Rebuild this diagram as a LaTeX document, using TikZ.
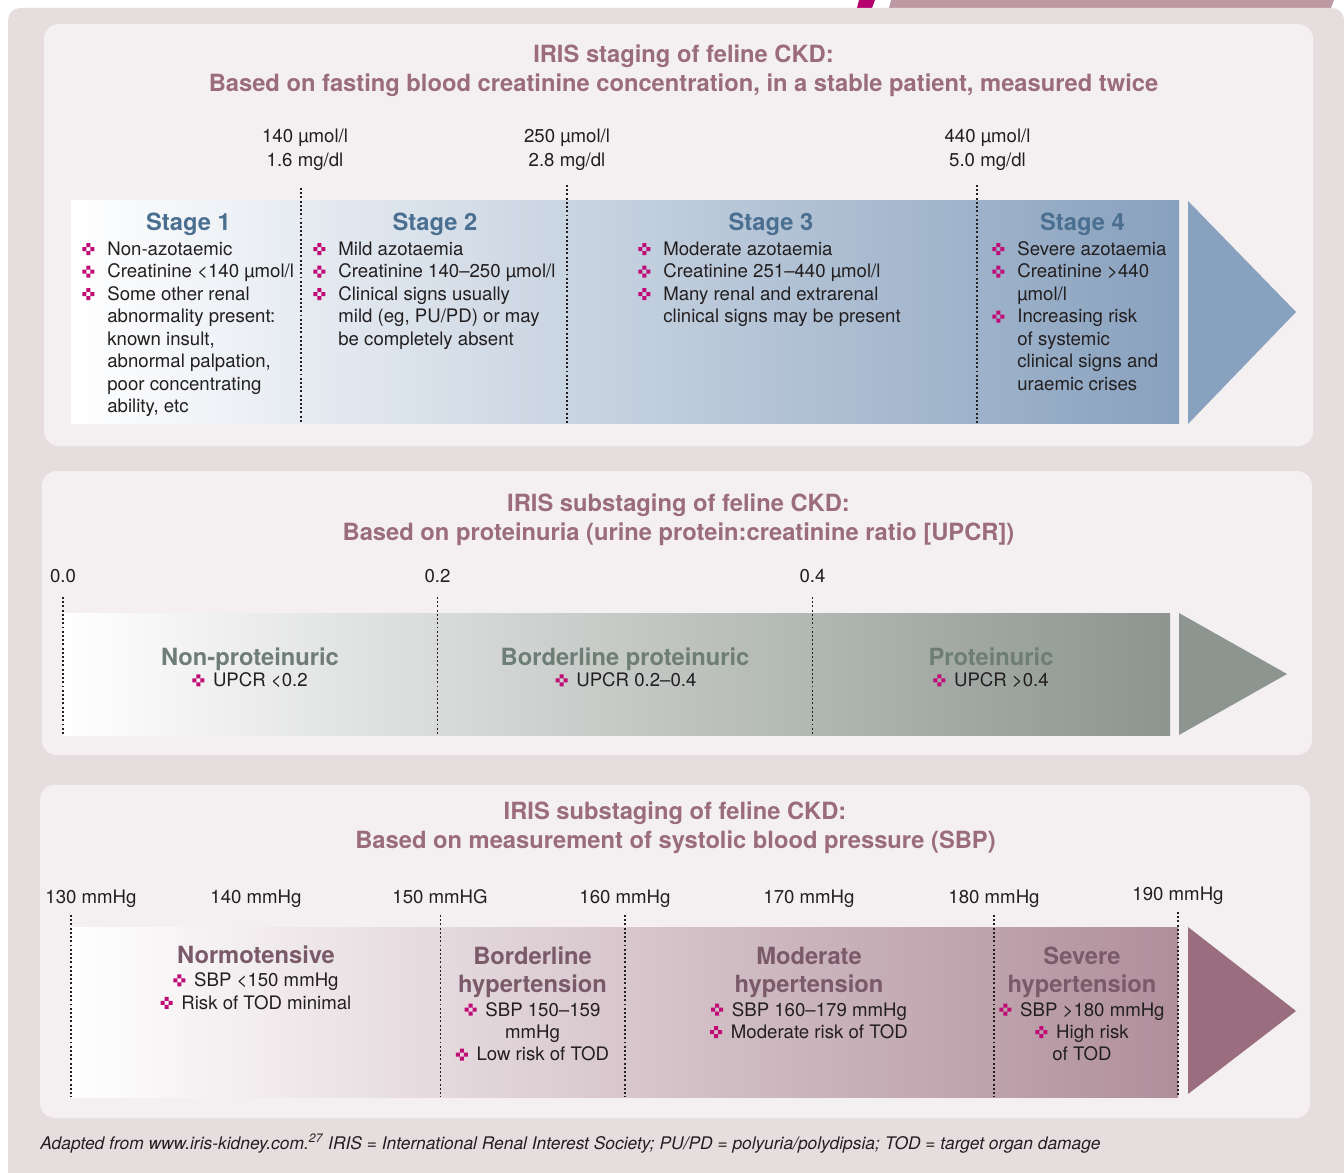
\documentclass[tikz,border=0pt]{standalone}
\usepackage{fontspec}
\setmainfont{TeX Gyre Heros}
\definecolor{outerbg}{HTML}{E6DDDF}
\definecolor{panelbg}{HTML}{F4F0F1}
\definecolor{headcol}{HTML}{9B6C7C}
\definecolor{stagecol}{HTML}{4A6F91}
\definecolor{protcol}{HTML}{6E7D76}
\definecolor{hypcol}{HTML}{7A5A69}
\definecolor{bandA}{HTML}{88A1BE}
\definecolor{bandB}{HTML}{8C958F}
\definecolor{bandC}{HTML}{B08F9B}
\definecolor{arrowC}{HTML}{9A6E7E}
\definecolor{bulcol}{HTML}{C00A76}
\definecolor{txtcol}{HTML}{231F20}
\definecolor{tabcol}{HTML}{BD9AA3}
\definecolor{tabmag}{HTML}{B5006E}
\newcommand\bul{\tikz[baseline=-0.2pt,x=0.08cm,y=0.08cm]\fill[bulcol,even odd rule] (1,0) rectangle (2,3) (0,1) rectangle (3,2);}
\newcommand\bl{\bul\hspace{5pt}}
\newcommand\ctext[1]{\begin{tabular}[t]{@{}c@{}}#1\end{tabular}}
\newcommand\ltext[1]{\begin{tabular}[t]{@{}l@{\hspace{7.4pt}}l@{}}#1\end{tabular}}
\begin{document}
\begin{tikzpicture}[x=0.02cm,y=-0.02cm,line join=round,
    panel/.style={fill=panelbg,rounded corners=0.3cm},
    dotline/.style={txtcol,line width=1.1pt,dash pattern=on 1.1pt off 1.3pt},
    hd/.style={inner sep=0pt,anchor=base,text=headcol,font=\bfseries\fontsize{13.5}{16.2}\selectfont},
    stagehd/.style={hd,text=stagecol},
    protlab/.style={hd,text=protcol},
    hyplab/.style={hd,text=hypcol},
    bodytxt/.style={inner sep=0pt,anchor=base,text=txtcol,font=\fontsize{10.6}{12.8}\selectfont},
    tick/.style={bodytxt,font=\fontsize{10.6}{13.7}\selectfont},
    foot/.style={inner sep=0pt,anchor=base west,text=txtcol,font=\itshape\fontsize{9.9}{11}\selectfont}]
  \useasboundingbox (0,0) rectangle (1344,1172);
  \fill[white] (0,0) rectangle (1344,1172);
  \fill[tabmag] (859,0) -- (875,0) -- (872,8) -- (857,8) -- cycle;
  \fill[tabcol] (891,0) -- (1334,0) -- (1331,8) -- (889,8) -- cycle;
  \fill[outerbg,rounded corners=0.24cm] (8,8) rectangle (1344,1190);
  \fill[panel] (44,24) rectangle (1313,446);
  \fill[panel] (42,471) rectangle (1312,755);
  \fill[panel] (40,785) rectangle (1310,1118);

  % creatinine stages
  \node[hd] (h1a) at (683.5,63) {IRIS staging of feline CKD:};
  \node[hd] (h1b) at (683.5,91.5) {Based on fasting blood creatinine concentration, in a stable patient, measured twice};
  \node[tick] (c140) at (305,142.7) {\ctext{140 µmol/l\\1.6 mg/dl}};
  \node[tick] (c250) at (567,142.7) {\ctext{250 µmol/l\\2.8 mg/dl}};
  \node[tick] (c440) at (987.5,142.7) {\ctext{440 µmol/l\\5.0 mg/dl}};
  \fill[left color=white,right color=bandA] (71,201) rectangle (1179,423);
  \fill[bandA] (1188,201) -- (1296,312) -- (1188,424) -- cycle;
  \foreach \xx/\ya in {301/188,567/185,977/185}
    \draw[dotline] (\xx,\ya) -- (\xx,423);
  \node[stagehd] (st1) at (188.5,231) {Stage 1};
  \node[stagehd] (st2) at (435,231) {Stage 2};
  \node[stagehd] (st3) at (771,231) {Stage 3};
  \node[stagehd] (st4) at (1082.5,231) {Stage 4};
  \node[bodytxt,anchor=base west] (ls1) at (82,255.5) {\ltext{%
    \bul & Non-azotaemic\\
    \bul & Creatinine <140 µmol/l\\
    \bul & Some other renal\\
         & abnormality present:\\
         & known insult,\\
         & abnormal palpation,\\
         & poor concentrating\\
         & ability, etc}};
  \node[bodytxt,anchor=base west] (ls2) at (313,255.5) {\ltext{%
    \bul & Mild azotaemia\\
    \bul & Creatinine 140–250 µmol/l\\
    \bul & Clinical signs usually\\
         & mild (eg, PU/PD) or may\\
         & be completely absent}};
  \node[bodytxt,anchor=base west] (ls3) at (638,255.5) {\ltext{%
    \bul & Moderate azotaemia\\
    \bul & Creatinine 251–440 µmol/l\\
    \bul & Many renal and extrarenal\\
         & clinical signs may be present}};
  \node[bodytxt,anchor=base west] (ls4) at (992,255.5) {\ltext{%
    \bul & Severe azotaemia\\
    \bul & Creatinine >440\\
         & µmol/l\\
    \bul & Increasing risk\\
         & of systemic\\
         & clinical signs and\\
         & uraemic crises}};

  % proteinuria
  \node[hd] (h2a) at (678.5,511.7) {IRIS substaging of feline CKD:};
  \node[hd] (h2b) at (678.5,540) {Based on proteinuria (urine protein:creatinine ratio [UPCR])};
  \node[tick] (u0) at (63,582) {0.0};
  \node[tick] (u2) at (437.5,582) {0.2};
  \node[tick] (u4) at (812.5,582) {0.4};
  \fill[left color=white,right color=bandB] (63,613) rectangle (1170,735);
  \fill[bandB] (1179,613) -- (1287,674) -- (1179,735) -- cycle;
  \foreach \xx in {63,437.5,812.5}
    \draw[dotline] (\xx,597) -- (\xx,735);
  \node[protlab] (np) at (250,665) {Non-proteinuric};
  \node[bodytxt] (npb) at (250,686.7) {\bl UPCR <0.2};
  \node[protlab] (bp) at (625,665) {Borderline proteinuric};
  \node[bodytxt] (bpb) at (626,686.7) {\bl UPCR 0.2–0.4};
  \node[protlab] (pp) at (991,665) {Proteinuric};
  \node[bodytxt] (ppb) at (991,686.7) {\bl UPCR >0.4};

  % blood pressure
  \node[hd] (h3a) at (675,819.5) {IRIS substaging of feline CKD:};
  \node[hd] (h3b) at (675.5,848) {Based on measurement of systolic blood pressure (SBP)};
  \foreach \xx/\lab [count=\i] in {91/130 mmHg,256/140 mmHg,440/150 mmHG,625/160 mmHg,809/170 mmHg,994/180 mmHg}
    \node[tick] (bp\i) at (\xx,903.3) {\lab};
  \node[tick] (bp7) at (1178,900) {190 mmHg};
  \fill[left color=white,right color=bandC] (71,927) rectangle (1178,1097);
  \fill[arrowC] (1188,927) -- (1296,1011) -- (1188,1094) -- cycle;
  \foreach \xx/\ya in {71/915,440.5/915,625/915,994/915,1178/912}
    \draw[dotline] (\xx,\ya) -- (\xx,1097);
  \node[hyplab] (nt) at (256,963.3) {Normotensive};
  \node[bodytxt] (ntb) at (256,986.7) {\ctext{\bl SBP <150 mmHg\\\bl Risk of TOD minimal}};
  \node[hyplab] (bh) at (532.5,964.3) {\ctext{Borderline\\hypertension}};
  \node[bodytxt] (bhb) at (532.5,1016) {\ctext{\bl SBP 150–159\\mmHg\\\bl Low risk of TOD}};
  \node[hyplab] (mh) at (809,964.3) {\ctext{Moderate\\hypertension}};
  \node[bodytxt] (mhb) at (809,1016) {\ctext{\bl SBP 160–179 mmHg\\\bl Moderate risk of TOD}};
  \node[hyplab] (sh) at (1082,964.3) {\ctext{Severe\\hypertension}};
  \node[bodytxt] (shb) at (1082,1016) {\ctext{\bl SBP >180 mmHg\\\bl High risk\\of TOD}};

  \node[foot] (note) at (40,1149) {Adapted from www.iris-kidney.com.\textsuperscript{27} IRIS = International Renal Interest Society; PU/PD = polyuria/polydipsia; TOD = target organ damage};
\end{tikzpicture}
\end{document}
